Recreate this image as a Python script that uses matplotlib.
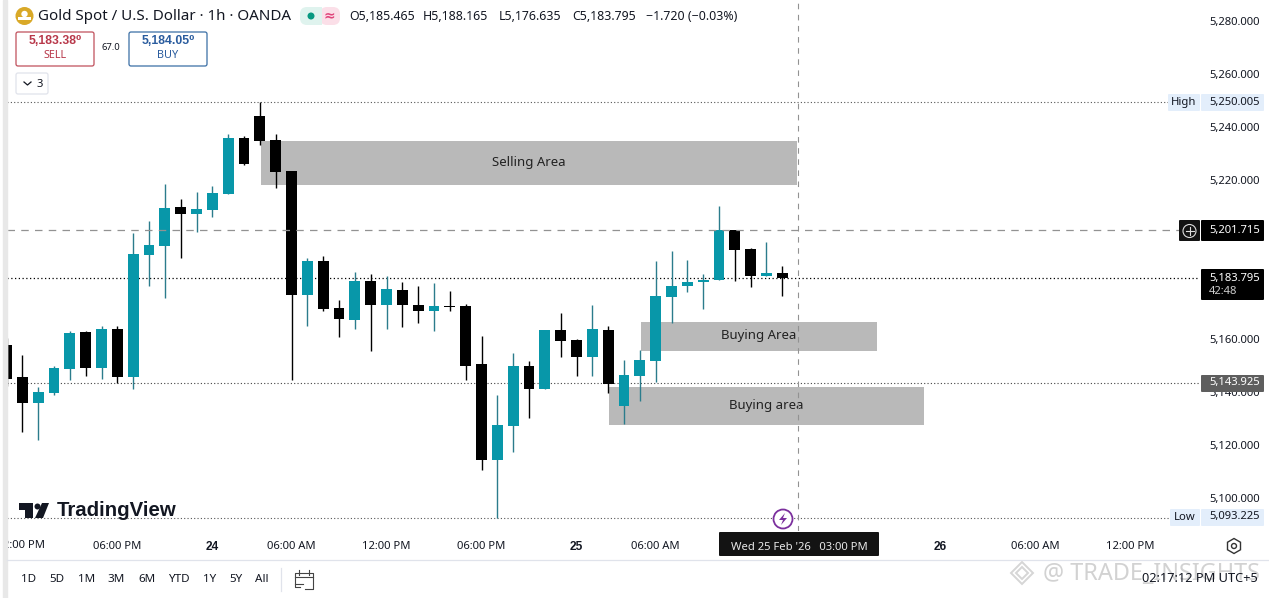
#!/usr/bin/env python3
import matplotlib
matplotlib.use("Agg")
import matplotlib.pyplot as plt
from matplotlib.patches import Rectangle, FancyBboxPatch, Circle, RegularPolygon, Polygon
from matplotlib.transforms import ScaledTranslation

plt.rcParams['font.family'] = ['Noto Sans', 'DejaVu Sans']
BOLD_FONT = ['Liberation Sans', 'DejaVu Sans']

# hourly candles, left to right
opens = [5158.4, 5146.3, 5136.6, 5140.3, 5149.4, 5163.3, 5149.8, 5164.4, 5146.4, 5192.5,
         5195.9, 5210.5, 5207.9, 5209.5, 5215.4, 5236.5, 5244.8, 5235.8, 5224.2, 5177.4,
         5190.1, 5172.3, 5167.9, 5182.5, 5173.6, 5179.1, 5173.5, 5171.3, 5173.0, 5173.1,
         5151.2, 5115.1, 5127.9, 5150.5, 5141.9, 5164.0, 5160.3, 5154.0, 5164.0, 5135.5,
         5146.8, 5152.5, 5176.6, 5180.8, 5182.2, 5183.0, 5201.7, 5194.6, 5184.5, 5185.5]
highs = [5161.0, 5154.6, 5142.6, 5150.5, 5163.7, 5163.7, 5165.6, 5165.6, 5200.7, 5205.2,
         5219.2, 5213.5, 5216.1, 5218.4, 5238.0, 5237.3, 5250.0, 5238.0, 5224.2, 5191.2,
         5192.0, 5175.5, 5185.9, 5185.2, 5184.4, 5182.2, 5180.7, 5181.8, 5178.9, 5173.9,
         5161.8, 5139.6, 5155.4, 5152.3, 5164.0, 5170.5, 5160.6, 5173.5, 5165.6, 5152.7,
         5156.5, 5190.1, 5193.9, 5190.5, 5185.2, 5210.9, 5201.7, 5195.1, 5197.3, 5188.2]
lows = [5143.0, 5125.5, 5122.5, 5139.5, 5145.2, 5146.8, 5145.7, 5144.1, 5141.8, 5180.7,
        5176.1, 5191.3, 5201.2, 5206.7, 5215.4, 5226.4, 5234.0, 5217.6, 5145.2, 5165.6,
        5171.3, 5161.5, 5164.4, 5156.2, 5164.4, 5165.3, 5166.7, 5163.8, 5171.3, 5145.3,
        5111.3, 5093.2, 5118.1, 5130.8, 5141.9, 5154.0, 5146.8, 5146.8, 5140.4, 5128.7,
        5137.4, 5144.5, 5166.8, 5178.5, 5172.1, 5182.9, 5182.7, 5180.4, 5184.5, 5177.0]
closes = [5145.7, 5136.6, 5140.6, 5149.7, 5162.9, 5149.8, 5164.4, 5146.4, 5192.7, 5196.1,
          5210.1, 5207.9, 5209.7, 5215.8, 5236.5, 5226.8, 5235.5, 5223.8, 5177.4, 5190.1,
          5172.1, 5168.3, 5182.5, 5173.6, 5179.5, 5173.6, 5171.3, 5173.1, 5172.7, 5150.6,
          5115.1, 5128.2, 5150.5, 5141.9, 5164.0, 5160.0, 5154.0, 5164.4, 5143.8, 5147.1,
          5152.7, 5176.9, 5180.7, 5182.2, 5182.9, 5201.7, 5194.4, 5184.5, 5185.6, 5183.8]

# zones
zone_names = ["Selling Area", "Buying Area", "Buying area"]
zone_start = [16.08, 40.08, 38.05]
zone_end = [49.93, 54.98, 57.95]
zone_low = [5218.8, 5156.1, 5128.2]
zone_high = [5235.4, 5167.1, 5142.5]

price_ticks = [5280, 5260, 5240, 5220, 5160, 5140, 5120, 5100]
price_labels = ["5,280.000", "5,260.000", "5,240.000", "5,220.000",
                "5,160.000", "5,140.000", "5,120.000", "5,100.000"]
time_ticks = [7, 13, 18, 24, 30, 36, 41, 59, 65, 71]
time_labels = ["06:00 PM", "24", "06:00 AM", "12:00 PM", "06:00 PM",
               "25", "06:00 AM", "26", "06:00 AM", "12:00 PM"]
high_price = 5250.005
low_price = 5093.225
last_price = 5183.795
prev_price = 5143.925
cross_price = 5201.715
cross_bar = 50

TEAL = "#0897a9"
TEAL_WICK = "#2b7c8c"
INK = "#131722"
ZONE = "#b9b9b9"
AXIS_SIZE = 8.1

fig = plt.figure(figsize=(12.69, 5.98), dpi=100, facecolor="white")
ax = fig.add_axes([7 / 1269, 67 / 598, 1193 / 1269, 531 / 598])
ax.set_xlim(0.03, 75.38)
ax.set_ylim(5088.2, 5288.6)
for s in ax.spines.values():
    s.set_visible(False)

# guide lines
ax.axhline(high_price, xmax=0.973, color="#555555", lw=0.8, ls=(0, (1, 2)), zorder=1)
ax.axhline(low_price, xmax=0.975, color="#555555", lw=0.8, ls=(0, (1, 2)), zorder=1)
ax.axhline(prev_price, color="#444444", lw=0.8, ls=(0, (1, 2)), zorder=1)
ax.axhline(last_price, color="black", lw=0.9, ls=(0, (1, 2)), zorder=1)

# zones
for i in range(3):
    ax.bar(zone_start[i], zone_high[i] - zone_low[i], bottom=zone_low[i],
           width=zone_end[i] - zone_start[i], align="edge", color=ZONE, zorder=2)
    ax.text((zone_start[i] + zone_end[i]) / 2, (zone_low[i] + zone_high[i]) / 2 + 0.2,
            zone_names[i], ha="center", va="center", fontsize=9.5, color="#222222", zorder=5)

# candles
bars = list(range(len(opens)))
up = [c >= o for o, c in zip(opens, closes)]
wick_colors = [TEAL_WICK if u else "black" for u in up]
body_colors = [TEAL if u else "black" for u in up]
ax.vlines(bars, lows, highs, colors=wick_colors, lw=1.0, zorder=3)
ax.bar(bars, [abs(c - o) for o, c in zip(opens, closes)],
       bottom=[min(o, c) for o, c in zip(opens, closes)],
       width=0.69, color=body_colors, zorder=4)

# crosshair
ax.axhline(cross_price, xmax=0.985, color="#929292", lw=0.9, ls=(0, (6, 5)), zorder=6)
ax.axvline(cross_bar, color="#929292", lw=0.8, ls=(0, (5, 5)), zorder=6)

# axes text
ax.yaxis.tick_right()
ax.set_yticks(price_ticks)
ax.set_yticklabels(price_labels, fontsize=AXIS_SIZE, color=INK)
ax.tick_params(axis="y", length=0, pad=6.5)
shift_up = ScaledTranslation(0, 1.5 / 72, fig.dpi_scale_trans)
for lab in ax.get_yticklabels():
    lab.set_transform(lab.get_transform() + shift_up)
ax.set_xticks(time_ticks)
ax.set_xticklabels(time_labels, fontsize=AXIS_SIZE, color=INK)
ax.tick_params(axis="x", length=0, pad=7)
for lab in ax.get_xticklabels():
    if lab.get_text() in ("24", "25", "26"):
        lab.set_fontfamily(BOLD_FONT)
        lab.set_fontweight("bold")
        lab.set_fontsize(8.6)

# everything around the chart, in screen pixels
ov = fig.add_axes([0, 0, 1, 1], zorder=10)
ov.set_xlim(0, 1269)
ov.set_ylim(598, 0)
ov.axis("off")
ov.patch.set_visible(False)

ov.text(45, 546, "2:00 PM", ha="right", va="center", fontsize=AXIS_SIZE, color=INK, zorder=0.5)
ov.add_patch(Rectangle((0, 0), 7, 598, color="white", zorder=1))
ov.add_patch(Rectangle((3, 0), 3.5, 598, color="#e8e8e8", zorder=2))
ov.plot([7, 1269], [560, 560], color="#e0e3eb", lw=0.9)


def tag(x0, x1, y0, y1, color, r=1):
    ov.add_patch(FancyBboxPatch((x0 + r, y0 + r), x1 - x0 - 2 * r, y1 - y0 - 2 * r,
                                boxstyle="round,pad=%g,rounding_size=%g" % (r, r),
                                fc=color, ec="none"))


# price tags
tag(1168, 1200, 94, 111, "#e3eefb")
tag(1201, 1264, 94, 111, "#e3eefb")
ov.text(1184, 102, "High", ha="center", va="center", fontsize=AXIS_SIZE, color=INK)
ov.text(1209, 102, "5,250.005", va="center", fontsize=AXIS_SIZE, color=INK)
tag(1179, 1200, 220, 241, "#131313")
tag(1201, 1264, 220, 241, "#000000")
ov.add_patch(Circle((1189.5, 231), 6.5, fc="none", ec="#dddddd", lw=0.8))
ov.plot([1185.5, 1193.5], [231, 231], color="#dddddd", lw=0.8)
ov.plot([1189.5, 1189.5], [227, 235], color="#dddddd", lw=0.8)
ov.text(1209, 230, "5,201.715", va="center", fontsize=AXIS_SIZE, color="white")
tag(1201, 1264, 269, 300, "#000000")
ov.text(1209, 278, "5,183.795", va="center", fontsize=AXIS_SIZE, color="white")
ov.text(1209, 291, "42:48", va="center", fontsize=AXIS_SIZE, color="#cccccc")
tag(1201, 1264, 375, 392, "#5e5e5e")
ov.text(1209, 383, "5,143.925", va="center", fontsize=AXIS_SIZE, color="white")
tag(1170, 1200, 509, 526, "#e3eefb")
tag(1201, 1264, 509, 526, "#e3eefb")
ov.text(1185, 518, "Low", ha="center", va="center", fontsize=AXIS_SIZE, color=INK)
ov.text(1209, 517, "5,093.225", va="center", fontsize=AXIS_SIZE, color=INK)

# legend row
ov.add_patch(Circle((24.5, 16), 9, fc="#d9a928", ec="none"))
ov.add_patch(Rectangle((18, 17), 13, 2.5, fc="white", ec="none"))
ov.add_patch(Circle((24.5, 14), 3.2, fc="white", ec="none"))
ov.text(38, 16, "Gold Spot / U.S. Dollar · 1h · OANDA", va="center", fontsize=10.9, color=INK)
tag(320, 340, 7, 25, "#fbdfe8", r=7)
tag(300, 322, 7, 25, "#dff3ee", r=7)
ov.add_patch(Rectangle((316, 7), 6, 18, fc="#dff3ee", ec="none"))
ov.add_patch(Circle((311, 16), 3.5, fc="#089981", ec="none"))
ov.text(329, 15.5, "≈", ha="center", va="center", fontsize=10, color="#e0457b", fontweight="bold")
ohlc_text = ["O5,185.465", "H5,188.165", "L5,176.635", "C5,183.795", "−1.720 (−0.03%)"]
ohlc_x = [349, 423, 499, 572, 646]
for label, x in zip(ohlc_text, ohlc_x):
    ov.text(x, 16, label, va="center", fontsize=8.9, color=INK)

# sell / buy
ov.add_patch(FancyBboxPatch((18, 34), 74, 30, boxstyle="round,pad=2", fc="white", ec="#c0505c", lw=0.9))
ov.text(55, 41.5, "5,183.38⁰", ha="center", va="center", fontsize=8.8, color="#b8384a",
        fontweight="bold", family=BOLD_FONT)
ov.text(55, 56, "SELL", ha="center", va="center", fontsize=7.8, color="#b8384a")
ov.text(111, 48, "67.0", ha="center", va="center", fontsize=6.8, color=INK)
ov.add_patch(FancyBboxPatch((131, 34), 74, 30, boxstyle="round,pad=2", fc="white", ec="#3a6ea5", lw=0.9))
ov.text(168, 41.5, "5,184.05⁰", ha="center", va="center", fontsize=8.8, color="#2a5c9e",
        fontweight="bold", family=BOLD_FONT)
ov.text(168, 56, "BUY", ha="center", va="center", fontsize=7.8, color="#2a5c9e")
ov.add_patch(FancyBboxPatch((18, 75), 28, 17, boxstyle="round,pad=2", fc="white", ec="#e0e3eb", lw=0.9))
ov.plot([24, 27.5, 31], [82, 85, 82], color=INK, lw=0.9)
ov.text(39.5, 84.5, "3", ha="center", va="center", fontsize=AXIS_SIZE, color=INK)

# TradingView mark
ov.add_patch(Polygon([(19, 503), (33, 503), (33, 518), (25, 518), (25, 510), (19, 510)], fc="#131722", ec="none"))
ov.add_patch(Circle((37.5, 506.5), 3, fc="#131722", ec="none"))
ov.add_patch(Polygon([(42, 503), (49, 503), (43, 518), (35, 518)], fc="#131722", ec="none"))
ov.text(57, 511, "TradingView", va="center", fontsize=14.7, color="#131722",
        fontweight="bold", family=BOLD_FONT)

# event marker
ov.add_patch(Circle((783, 519), 9.5, fc="white", ec="#7b2f9d", lw=1.3))
ov.add_patch(Polygon([(785, 513), (779, 520), (783, 520), (781, 525), (787, 518), (783, 518)], fc="#7b2f9d", ec="none"))

# crosshair time tag
tag(719, 879, 532, 556, "#131313")
ov.text(799, 547, "Wed 25 Feb '26   03:00 PM", ha="center", va="center", fontsize=AXIS_SIZE, color="#e8e8e8")

# settings icon
ov.add_patch(RegularPolygon((1234, 546), 6, radius=7.5, fc="none", ec="#333333", lw=1))
ov.add_patch(Circle((1234, 546), 2.5, fc="none", ec="#333333", lw=1))

# range buttons
range_names = ["1D", "5D", "1M", "3M", "6M", "YTD", "1Y", "5Y", "All"]
range_x = [29, 57, 87, 116, 147, 179, 210, 236, 262]
for name, x in zip(range_names, range_x):
    ov.text(x, 580, name, ha="center", va="center", fontsize=AXIS_SIZE + 0.3, color=INK)
ov.plot([281, 281], [568, 591], color="#e0e3eb", lw=0.9)
ov.plot([300, 295, 295, 313, 313, 305], [587, 587, 573, 573, 589, 589], color="#444444", lw=0.8)
ov.plot([295, 313], [577, 577], color="#444444", lw=0.8)
ov.plot([299, 299], [570, 575], color="#444444", lw=0.8)
ov.plot([309, 309], [570, 575], color="#444444", lw=0.8)
ov.plot([295, 303], [584, 584], color="#444444", lw=0.8)

# watermark and clock
for r in (11, 6):
    ov.add_patch(RegularPolygon((1022, 573), 4, radius=r, fc="none", ec="#d6d6d6", lw=1.4))
ov.text(1043, 573.5, "@ TRADE_INSIGHTS", va="center", fontsize=16.9, color="#d2d2d2")
ov.text(1258, 579, "02:17:12 PM UTC+5", ha="right", va="center", fontsize=9.2, color=INK)

fig.savefig("out.png", dpi=100)
